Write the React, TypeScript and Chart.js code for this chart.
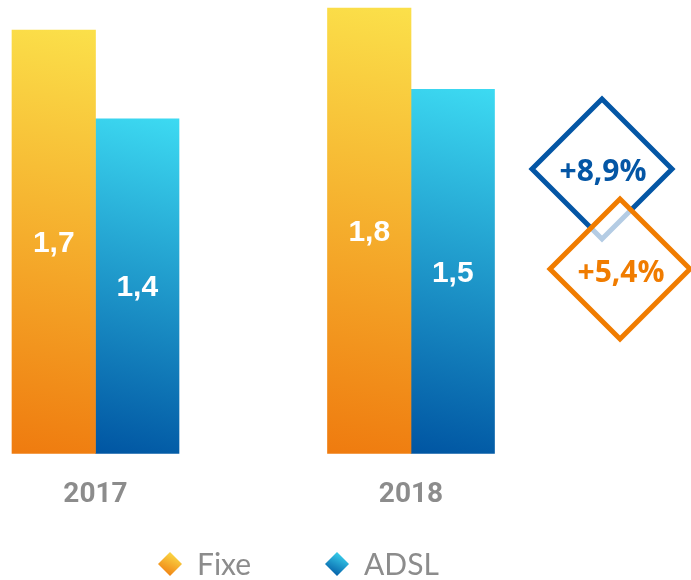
import React, { useEffect, useRef } from "react";
import { Chart, registerables } from "chart.js";
Chart.register(...registerables);

const categories = ["2017", "2018"];
const seriesNames = ["Fixe", "ADSL"];
const fixeValues = [1.72, 1.81];
const adslValues = [1.36, 1.48];
const growthLabels = ["+8,9%", "+5,4%"];
const yMax = 1.81;

const FIXE_TOP = "#FBE04A";
const FIXE_BOTTOM = "#EF7B0F";
const ADSL_TOP = "#3DDAF2";
const ADSL_BOTTOM = "#0055A2";
const BLUE = "#0456A5";
const ORANGE = "#F07C00";
const GRAY = "#8c8c8c";
const BAR_W = 83.5;

function barGradient(top: string, bottom: string, side: number) {
  return (ctx: any) => {
    const chart = ctx.chart;
    if (!chart.chartArea || ctx.type !== "data") return bottom;
    const ys = chart.scales.y;
    const xs = chart.scales.x;
    const v = ctx.raw as number;
    const yTop = ys.getPixelForValue(v);
    const yBase = ys.getPixelForValue(0);
    const cx = xs.getPixelForValue(ctx.dataIndex);
    const xl = side === 0 ? cx - BAR_W : cx;
    const xr = xl + BAR_W;
    const g = chart.ctx.createLinearGradient(xr, yTop, xl, yBase);
    g.addColorStop(0, top);
    g.addColorStop(1, bottom);
    return g;
  };
}

const valueLabelPlugin = {
  id: "valueLabels",
  afterDatasetsDraw(chart: any) {
    const ctx = chart.ctx;
    ctx.save();
    ctx.fillStyle = "#ffffff";
    ctx.font = "bold 30px 'Liberation Sans', Arial, sans-serif";
    ctx.textAlign = "center";
    ctx.textBaseline = "middle";
    chart.data.datasets.forEach((ds: any, di: number) => {
      const meta = chart.getDatasetMeta(di);
      meta.data.forEach((el: any, i: number) => {
        const v = ds.data[i] as number;
        const txt = v.toFixed(1).replace(".", ",");
        ctx.fillText(txt, el.x, (el.y + el.base) / 2 + 2);
      });
    });
    ctx.restore();
  },
};

function diamond(ctx: CanvasRenderingContext2D, cx: number, cy: number, r: number) {
  ctx.beginPath();
  ctx.moveTo(cx, cy - r);
  ctx.lineTo(cx + r, cy);
  ctx.lineTo(cx, cy + r);
  ctx.lineTo(cx - r, cy);
  ctx.closePath();
}

const decorPlugin = {
  id: "decor",
  afterDraw(chart: any) {
    const ctx = chart.ctx as CanvasRenderingContext2D;
    const area = chart.chartArea;
    ctx.save();
    const specs = [
      { dx: 191, cy: 169, color: BLUE, fill: "#ffffff", text: growthLabels[0], ty: 3 },
      { dx: 209, cy: 269, color: ORANGE, fill: "rgba(255,255,255,0.7)", text: growthLabels[1], ty: 4 },
    ];
    specs.forEach((s) => {
      const cx = area.right + s.dx;
      diamond(ctx, cx, s.cy, 70);
      ctx.fillStyle = s.fill;
      ctx.fill();
      ctx.lineWidth = 5;
      ctx.lineJoin = "miter";
      ctx.strokeStyle = s.color;
      ctx.stroke();
      ctx.fillStyle = s.color;
      ctx.font = "bold 30px 'Open Sans', sans-serif";
      ctx.textAlign = "center";
      ctx.textBaseline = "middle";
      ctx.fillText(s.text, cx + 1, s.cy + s.ty);
    });
    const legend = [
      { x: 170, top: FIXE_TOP, bottom: FIXE_BOTTOM, name: seriesNames[0] },
      { x: 337, top: ADSL_TOP, bottom: ADSL_BOTTOM, name: seriesNames[1] },
    ];
    const ly = 564;
    legend.forEach((l) => {
      const g = ctx.createLinearGradient(l.x + 6, ly - 12, l.x - 6, ly + 12);
      g.addColorStop(0, l.top);
      g.addColorStop(1, l.bottom);
      diamond(ctx, l.x, ly, 12);
      ctx.fillStyle = g;
      ctx.fill();
      ctx.fillStyle = GRAY;
      ctx.font = "30px Lato, sans-serif";
      ctx.textAlign = "left";
      ctx.textBaseline = "middle";
      ctx.fillText(l.name, l.x + 27, ly + 1);
    });
    ctx.restore();
  },
};

export default function App() {
  const ref = useRef<HTMLCanvasElement | null>(null);
  useEffect(() => {
    document.body.style.margin = "0";
    const canvas = ref.current;
    if (!canvas) return;
    const chart = new Chart(canvas, {
      type: "bar",
      data: {
        labels: categories,
        datasets: [
          {
            label: seriesNames[0],
            data: fixeValues,
            backgroundColor: barGradient(FIXE_TOP, FIXE_BOTTOM, 0),
            barThickness: BAR_W,
            clip: false,
          },
          {
            label: seriesNames[1],
            data: adslValues,
            backgroundColor: barGradient(ADSL_TOP, ADSL_BOTTOM, 1),
            barThickness: BAR_W,
            clip: false,
          },
        ],
      },
      options: {
        animation: false,
        responsive: true,
        maintainAspectRatio: false,
        layout: { padding: { left: 95.5, right: 280, top: 8, bottom: 43 } },
        plugins: { legend: { display: false }, tooltip: { enabled: false } },
        scales: {
          x: {
            offset: false,
            grid: { display: false, drawTicks: false },
            border: { display: false },
            ticks: {
              color: GRAY,
              padding: 25,
              font: { family: "Roboto", weight: "bold", size: 28 },
            },
          },
          y: { display: false, min: 0, max: yMax },
        },
      },
      plugins: [valueLabelPlugin, decorPlugin],
    });
    return () => chart.destroy();
  }, []);
  return (
    <div style={{ position: "relative", width: 691, height: 580 }}>
      <canvas ref={ref} />
    </div>
  );
}
